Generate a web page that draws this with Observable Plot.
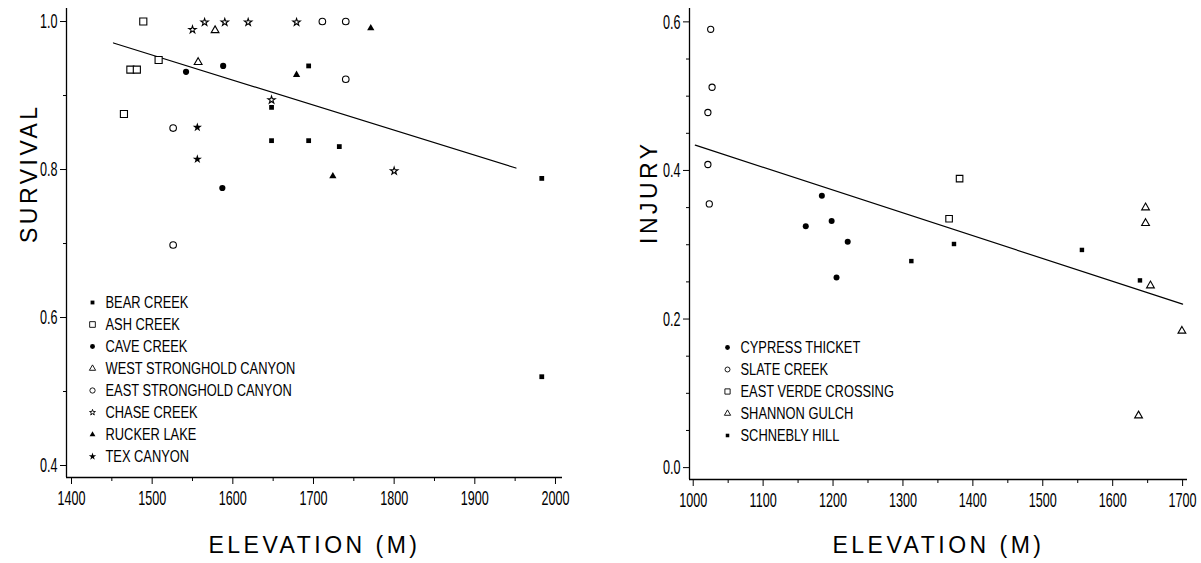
<!DOCTYPE html>
<html><head><meta charset="utf-8">
<script src="https://cdn.jsdelivr.net/npm/d3@7"></script>
<script src="https://cdn.jsdelivr.net/npm/@observablehq/plot@0.6"></script>
<style>
body{margin:0;background:#fff}
#wrap{position:relative;width:1201px;height:563px;overflow:hidden;background:#fff}
#wrap svg{position:absolute;overflow:visible}
</style></head><body><div id="wrap"></div>
<script>
// ---------- LEFT PANEL: SURVIVAL ----------
const survSiteNames = ["BEAR CREEK","ASH CREEK","CAVE CREEK","WEST STRONGHOLD CANYON","EAST STRONGHOLD CANYON","CHASE CREEK","RUCKER LAKE","TEX CANYON"];
const survSite = [
  "BEAR CREEK","BEAR CREEK","BEAR CREEK","BEAR CREEK","BEAR CREEK","BEAR CREEK","BEAR CREEK",
  "ASH CREEK","ASH CREEK","ASH CREEK","ASH CREEK","ASH CREEK",
  "CAVE CREEK","CAVE CREEK","CAVE CREEK",
  "WEST STRONGHOLD CANYON","WEST STRONGHOLD CANYON",
  "EAST STRONGHOLD CANYON","EAST STRONGHOLD CANYON","EAST STRONGHOLD CANYON","EAST STRONGHOLD CANYON","EAST STRONGHOLD CANYON",
  "CHASE CREEK","CHASE CREEK","CHASE CREEK","CHASE CREEK","CHASE CREEK","CHASE CREEK","CHASE CREEK",
  "RUCKER LAKE","RUCKER LAKE","RUCKER LAKE",
  "TEX CANYON","TEX CANYON"];
const survElev = [
  1694,1648,1648,1694,1732,1983,1983,
  1489,1508,1473,1481,1465,
  1542,1588,1587,
  1578,1557,
  1711,1740,1740,1526,1526,
  1550,1565,1590,1619,1679,1648,1800,
  1679,1724,1771,
  1556,1556];
const survVal = [
  0.940,0.884,0.839,0.839,0.831,0.788,0.520,
  1.000,0.948,0.935,0.935,0.875,
  0.932,0.940,0.775,
  0.988,0.945,
  1.000,1.000,0.922,0.856,0.698,
  0.989,0.999,0.999,0.999,0.999,0.894,0.798,
  0.928,0.791,0.991,
  0.857,0.814];
const survFitElev = [1452, 1951];
const survFitVal = [0.971, 0.802];
const survTicks = [0.4, 0.6, 0.8, 1.0];
const survMinorTicks = [0.5, 0.7, 0.9];
const elevTicksL = [1400, 1500, 1600, 1700, 1800, 1900, 2000];
const elevMinorL = [1450, 1550, 1650, 1750, 1850, 1950];

// ---------- RIGHT PANEL: INJURY ----------
const injSiteNames = ["CYPRESS THICKET","SLATE CREEK","EAST VERDE CROSSING","SHANNON GULCH","SCHNEBLY HILL"];
const injSite = [
  "CYPRESS THICKET","CYPRESS THICKET","CYPRESS THICKET","CYPRESS THICKET","CYPRESS THICKET",
  "SLATE CREEK","SLATE CREEK","SLATE CREEK","SLATE CREEK","SLATE CREEK",
  "EAST VERDE CROSSING","EAST VERDE CROSSING",
  "SHANNON GULCH","SHANNON GULCH","SHANNON GULCH","SHANNON GULCH","SHANNON GULCH",
  "SCHNEBLY HILL","SCHNEBLY HILL","SCHNEBLY HILL","SCHNEBLY HILL"];
const injElev = [
  1161,1184,1198,1205,1221,
  1025,1027,1021,1021,1023,
  1366,1381,
  1647,1647,1654,1699,1637,
  1312,1373,1556,1639];
const injVal = [
  0.325,0.366,0.332,0.256,0.304,
  0.590,0.512,0.478,0.408,0.355,
  0.335,0.389,
  0.350,0.329,0.245,0.184,0.070,
  0.278,0.301,0.293,0.252];
const injFitElev = [1003, 1700];
const injFitVal = [0.434, 0.220];
const injTicks = [0.0, 0.2, 0.4, 0.6];
const injMinorTicks = [0.05,0.1,0.15,0.25,0.3,0.35,0.45,0.5,0.55];
const elevTicksR = [1000,1100,1200,1300,1400,1500,1600,1700];
const elevMinorR = [1050,1150,1250,1350,1450,1550,1650];

// ---------- marker styles ----------
const survStyle = {
  "BEAR CREEK": {symbol:"square", filled:true, r:2.7},
  "ASH CREEK": {symbol:"square", filled:false, r:4.0},
  "CAVE CREEK": {symbol:"circle", filled:true, r:3.1},
  "WEST STRONGHOLD CANYON": {symbol:"triangle", filled:false, r:2.9},
  "EAST STRONGHOLD CANYON": {symbol:"circle", filled:false, r:3.3},
  "CHASE CREEK": {symbol:"star", filled:false, r:2.3},
  "RUCKER LAKE": {symbol:"triangle", filled:true, r:2.7},
  "TEX CANYON": {symbol:"star", filled:true, r:2.9}
};
const injStyle = {
  "CYPRESS THICKET": {symbol:"circle", filled:true, r:3.0},
  "SLATE CREEK": {symbol:"circle", filled:false, r:3.1},
  "EAST VERDE CROSSING": {symbol:"square", filled:false, r:3.7},
  "SHANNON GULCH": {symbol:"triangle", filled:false, r:2.9},
  "SCHNEBLY HILL": {symbol:"square", filled:true, r:2.5}
};

const FONT = "'Liberation Sans', Arial, sans-serif";

function dots(rows, names, styles, scale) {
  return names.map(n => {
    const s = styles[n];
    return Plot.dot(rows.filter(d => d.site === n), {
      x: "elev", y: "val", symbol: s.symbol, r: s.r * scale,
      fill: s.filled ? "black" : "white",
      stroke: s.filled ? "none" : "black", strokeWidth: 1.1
    });
  });
}

function panel(o) {
  const rows = o.site.map((s, i) => ({site: s, elev: o.elev[i], val: o.val[i]}));
  const fit = o.fitElev.map((e, i) => ({elev: e, val: o.fitVal[i]}));
  return Plot.plot({
    width: o.width, height: 563,
    marginLeft: o.marginLeft, marginRight: o.marginRight, marginTop: 8, marginBottom: o.marginBottom,
    x: {domain: o.xDomain},
    y: {domain: o.yDomain},
    style: {fontFamily: FONT, fontSize: "21px", color: "black", background: "transparent", overflow: "visible"},
    marks: [
      Plot.ruleX([o.xDomain[0]], {stroke: "black", strokeWidth: 1.3}),
      Plot.ruleY([o.yDomain[0]], {stroke: "black", strokeWidth: 1.3}),
      Plot.axisX({ticks: o.xTicks, tickSize: 7, tickPadding: 6, tickFormat: d => String(d), label: null}),
      Plot.axisX({ticks: o.xMinor, tickSize: 4, tickFormat: () => "", label: null}),
      Plot.axisY({ticks: o.yTicks, tickSize: 6, tickPadding: 3, tickFormat: d3.format(".1f"), label: null}),
      Plot.axisY({ticks: o.yMinor, tickSize: 3, tickFormat: () => "", label: null}),
      Plot.line(fit, {x: "elev", y: "val", stroke: "black", strokeWidth: 1.2}),
      ...dots(rows, o.names, o.styles, 1),
      Plot.text([o.xTitle], {frameAnchor: "bottom", dy: o.xTitleDy, text: d => d, fontSize: 23, lineAnchor: "middle"}),
      Plot.text([o.yTitle], {frameAnchor: "left", dx: o.yTitleDx, rotate: -90, text: d => d, fontSize: 23, lineAnchor: "middle"})
    ]
  });
}

function legend(names, styles) {
  const step = 22.3;
  return Plot.plot({
    width: 280, height: step * (names.length - 1) + 20,
    marginTop: 10, marginBottom: 10, marginLeft: 6, marginRight: 0,
    y: {type: "point", domain: names, axis: null, padding: 0},
    style: {fontFamily: FONT, fontSize: "16px", color: "black", background: "transparent", overflow: "visible"},
    marks: [
      ...names.map(n => {
        const s = styles[n];
        return Plot.dot([n], {y: d => d, frameAnchor: "left", symbol: s.symbol, r: s.r * 0.8,
          fill: s.filled ? "black" : "white", stroke: s.filled ? "none" : "black", strokeWidth: 0.9});
      }),
      Plot.text(names, {y: d => d, text: d => d, frameAnchor: "left", dx: 13, textAnchor: "start", fontSize: 16.5})
    ]
  });
}

const wrap = document.getElementById("wrap");
function place(svg, left, top) {
  svg.style.left = left + "px"; svg.style.top = top + "px";
  wrap.appendChild(svg);
  return svg;
}

const left = place(panel({
  site: survSite, elev: survElev, val: survVal, fitElev: survFitElev, fitVal: survFitVal,
  names: survSiteNames, styles: survStyle,
  width: 600, marginLeft: 66, marginRight: 38, marginBottom: 86,
  xDomain: [1393.8, 2008.7], yDomain: [0.3838, 1.0176],
  xTicks: elevTicksL, xMinor: elevMinorL, yTicks: survTicks, yMinor: survMinorTicks,
  xTitle: "ELEVATION (M)", yTitle: "SURVIVAL", xTitleDy: 68, yTitleDx: -37
}), 0, 0);

const right = place(panel({
  site: injSite, elev: injElev, val: injVal, fitElev: injFitElev, fitVal: injFitVal,
  names: injSiteNames, styles: injStyle,
  width: 601, marginLeft: 89, marginRight: 14, marginBottom: 84,
  xDomain: [994.7, 1707], yDomain: [-0.016, 0.618],
  xTicks: elevTicksR, xMinor: elevMinorR, yTicks: injTicks, yMinor: injMinorTicks,
  xTitle: "ELEVATION (M)", yTitle: "INJURY", xTitleDy: 66, yTitleDx: -40
}), 600, 0);

const legL = place(legend(survSiteNames, survStyle), 86, 290.7);
const legR = place(legend(injSiteNames, injStyle), 721, 336);

// condensed look for the narrow labels
function squish(svg, selector, k) {
  d3.select(svg).selectAll(selector).each(function() {
    if (!this.textContent) return;
    const w = this.getComputedTextLength();
    this.setAttribute("textLength", (w * k).toFixed(1));
    this.setAttribute("lengthAdjust", "spacingAndGlyphs");
  });
}
for (const svg of [left, right]) {
  squish(svg, 'g[aria-label="x-axis tick label"] text, g[aria-label="y-axis tick label"] text', 0.6);
  d3.select(svg).selectAll('g[aria-label="text"] text').attr("letter-spacing", "3.5px");
}
for (const svg of [legL, legR]) {
  squish(svg, 'g[aria-label="text"] text', 0.78);
}
</script></body></html>
